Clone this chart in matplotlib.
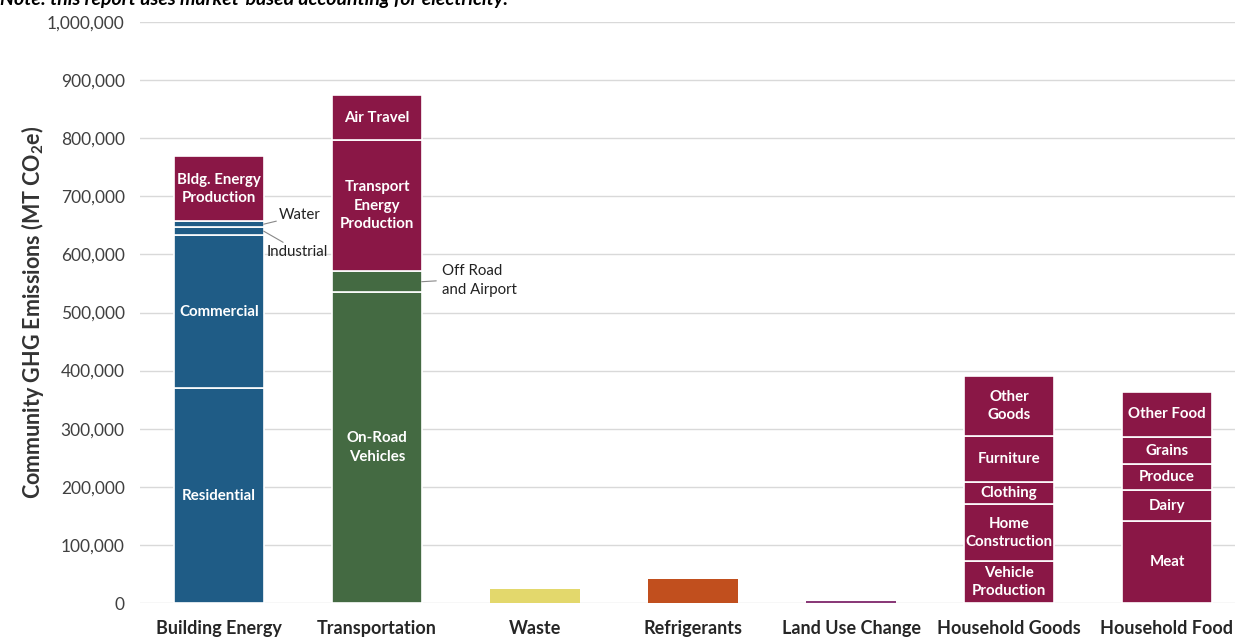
import matplotlib.pyplot as plt
from matplotlib.ticker import FuncFormatter

plt.rcParams['font.family'] = ['Lato', 'DejaVu Sans']

# categories along the x axis
categories = ['Building Energy', 'Transportation', 'Waste', 'Refrigerants',
              'Land Use Change', 'Household Goods', 'Household Food']

# stacked segments per category, bottom to top (MT CO2e)
building_labels = ['Residential', 'Commercial', 'Industrial', 'Water', 'Bldg. Energy\nProduction']
building_values = [370000, 263000, 14000, 10000, 112000]

transport_labels = ['On-Road\nVehicles', 'Off Road\nand Airport', 'Transport\nEnergy\nProduction', 'Air Travel']
transport_values = [535000, 36000, 226000, 77000]

waste_value = 24000
refrigerants_value = 41000
land_use_value = 3000

goods_labels = ['Vehicle\nProduction', 'Home\nConstruction', 'Clothing', 'Furniture', 'Other\nGoods']
goods_values = [72000, 98000, 38000, 79000, 104000]

food_labels = ['Meat', 'Dairy', 'Produce', 'Grains', 'Other Food']
food_values = [141000, 53000, 45000, 47000, 77000]

blue = '#1f5c86'
green = '#446a42'
maroon = '#8a1746'
yellow = '#e3d86c'
orange = '#c14f1e'
purple = '#8a3a78'

building_colors = [blue, blue, blue, blue, maroon]
transport_colors = [green, green, maroon, maroon]

fig = plt.figure(figsize=(12.35, 6.39), dpi=100)
ax = fig.add_axes([0.1134, 0.0563, 0.8955, 0.9093])

w = 0.565


def stack(x, values, colors, labels, hide=()):
    bottom = 0
    for v, c, lab in zip(values, colors, labels):
        ax.bar(x, v, bottom=bottom, width=w, color=c, edgecolor='white', linewidth=1.2, zorder=3)
        if lab not in hide:
            ax.text(x, bottom + v / 2, lab, ha='center', va='center', color='white',
                    fontsize=10.8, fontweight='bold', linespacing=1.4, zorder=4)
        bottom += v


stack(0, building_values, building_colors, building_labels, hide=('Industrial', 'Water'))
stack(1, transport_values, transport_colors, transport_labels, hide=('Off Road\nand Airport',))
ax.bar(2, waste_value, width=w, color=yellow, zorder=3)
ax.bar(3, refrigerants_value, width=w, color=orange, zorder=3)
ax.bar(4, land_use_value, width=w, color=purple, zorder=3)
stack(5, goods_values, [maroon] * 5, goods_labels)
stack(6, food_values, [maroon] * 5, food_labels)

# leader-line callouts for the thin segments
b_top = sum(building_values[:3])
ax.annotate('Water', xy=(w / 2, b_top + building_values[3] / 2), xytext=(0.38, 667000),
            fontsize=10.8, color='#222222', va='center', ha='left',
            arrowprops=dict(arrowstyle='-', color='#888888', lw=0.8, shrinkA=0, shrinkB=0))
ax.annotate('Industrial', xy=(w / 2, sum(building_values[:2]) + building_values[2] / 2),
            xytext=(0.3, 604000), fontsize=10.8, color='#222222', va='center', ha='left',
            arrowprops=dict(arrowstyle='-', color='#888888', lw=0.8, shrinkA=0, shrinkB=0,
                            relpos=(0.35, 1.0)))
ax.annotate('Off Road\nand Airport', xy=(1 + w / 2, transport_values[0] + transport_values[1] / 2),
            xytext=(1.41, 555000), fontsize=10.8, color='#222222', va='center', ha='left',
            linespacing=1.5,
            arrowprops=dict(arrowstyle='-', color='#888888', lw=0.8, shrinkA=2, shrinkB=0,
                            relpos=(0.0, 0.5)))

ax.set_xlim(-0.5, 6.5)
ax.set_ylim(0, 1000000)
ax.set_yticks(range(0, 1000001, 100000))
ax.yaxis.set_major_formatter(FuncFormatter(lambda v, p: f'{int(v):,}'))
ax.set_xticks(range(len(categories)))
ax.set_xticklabels(categories, fontsize=13, fontweight='bold', color='#262626')
ax.tick_params(axis='x', length=0, pad=12)
ax.tick_params(axis='y', length=0, pad=11, labelsize=12.5, labelcolor='#404040')
ax.grid(axis='y', color='#d9d9d9', linewidth=1, zorder=0)
for s in ax.spines.values():
    s.set_visible(False)

ax.set_ylabel('Community GHG Emissions (MT CO$_\\mathregular{2}$e)', fontsize=15.5,
              fontweight='bold', color='#333333', labelpad=1)

fig.text(0.0, 1 - 5 / 639, 'Note: this report uses market-based accounting for electricity.',
         fontsize=14, fontweight='bold', fontstyle='italic', va='baseline', ha='left')

fig.savefig('out.png', dpi=100)
